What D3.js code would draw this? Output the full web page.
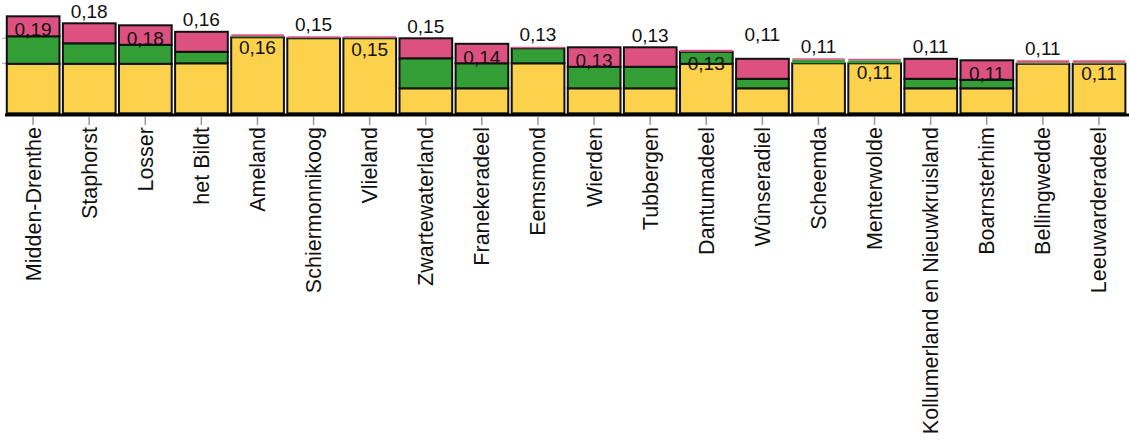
<!DOCTYPE html>
<html>
<head>
<meta charset="utf-8">
<script src="https://cdn.jsdelivr.net/npm/d3@7"></script>
<style>
  body { margin: 0; background: #fff; }
  svg text { font-family: "Liberation Sans", Arial, sans-serif; fill: #111; }
</style>
</head>
<body>
<div id="chart"></div>
<script>
const categories = ['Midden-Drenthe', 'Staphorst', 'Losser', 'het Bildt', 'Ameland', 'Schiermonnikoog',
  'Vlieland', 'Zwartewaterland', 'Franekeradeel', 'Eemsmond', 'Wierden', 'Tubbergen', 'Dantumadeel',
  'Wûnseradiel', 'Scheemda', 'Menterwolde', 'Kollumerland en Nieuwkruisland', 'Boarnsterhim',
  'Bellingwedde', 'Leeuwarderadeel'];

const yellowValues = [0.099, 0.099, 0.099, 0.1, 0.152, 0.15, 0.15, 0.05, 0.05, 0.1,
  0.05, 0.05, 0.099, 0.05, 0.1, 0.1, 0.05, 0.05, 0.099, 0.099];
const greenValues = [0.055, 0.041, 0.038, 0.023, 0.002, 0.001, 0.001, 0.06, 0.05, 0.03,
  0.043, 0.043, 0.024, 0.019, 0.007, 0.006, 0.019, 0.017, 0.002, 0.002];
const pinkValues = [0.04, 0.04, 0.039, 0.04, 0.004, 0.003, 0.003, 0.04, 0.039, 0.003,
  0.039, 0.039, 0.004, 0.04, 0.003, 0.003, 0.04, 0.039, 0.005, 0.005];

// where the total label sits: inside the bar, above it, or lifted higher
const labelSide = ['in', 'out', 'in', 'out', 'in', 'out', 'in', 'out', 'in', 'out',
  'in', 'out', 'in', 'up', 'out', 'in', 'out', 'in', 'out', 'in'];

const seriesKeys = ['yellow', 'green', 'pink'];
const colors = { yellow: '#fcd24c', green: '#329e35', pink: '#dd5180' };

const width = 1129, height = 448;
const baseY = 113.3;

const rows = categories.map((c, i) => ({
  name: c, yellow: yellowValues[i], green: greenValues[i], pink: pinkValues[i]
}));

const svg = d3.select('#chart').append('svg')
  .attr('width', width)
  .attr('height', height);

const x = d3.scaleBand()
  .domain(categories)
  .range([5, 1127])
  .padding(0);

const y = d3.scaleLinear()
  .domain([0, 0.2])
  .range([baseY, baseY - 100]);

const stack = d3.stack().keys(seriesKeys)(rows);

// small left ticks
svg.selectAll('.ytick')
  .data([0.1, 0.15])
  .enter().append('line')
  .attr('x1', 2).attr('x2', 6)
  .attr('y1', d => y(d)).attr('y2', d => y(d))
  .attr('stroke', '#aaa')
  .attr('stroke-width', 1);

const layers = svg.selectAll('.layer')
  .data(stack)
  .enter().append('g')
  .attr('class', 'layer')
  .attr('fill', d => colors[d.key]);

layers.selectAll('rect')
  .data(d => d)
  .enter().append('rect')
  .attr('x', d => x(d.data.name) + 1.8)
  .attr('width', x.bandwidth() - 3.4)
  .attr('y', d => y(d[1]))
  .attr('height', d => y(d[0]) - y(d[1]))
  .attr('stroke', d => (y(d[0]) - y(d[1]) < 4 ? 'none' : '#111'))
  .attr('stroke-width', 2);

// baseline
svg.append('line')
  .attr('x1', 5).attr('x2', width)
  .attr('y1', 115).attr('y2', 115)
  .attr('stroke', '#000')
  .attr('stroke-width', 3);

// x ticks and labels
const ticks = svg.selectAll('.xtick')
  .data(categories)
  .enter().append('g')
  .attr('transform', d => `translate(${x(d) + x.bandwidth() / 2},0)`);

ticks.append('line')
  .attr('y1', 117).attr('y2', 125)
  .attr('stroke', '#999')
  .attr('stroke-width', 1.5);

ticks.append('text')
  .attr('transform', 'translate(0,127) rotate(-90)')
  .attr('text-anchor', 'end')
  .attr('dy', '0.35em')
  .style('font-size', '21.5px')
  .text(d => d);

// total labels
const locale = d3.formatLocale({ decimal: ',', thousands: '.', grouping: [3], currency: ['€', ''] });
const fmt = locale.format('.2f');

svg.selectAll('.total')
  .data(rows)
  .enter().append('text')
  .attr('class', 'total')
  .attr('x', d => x(d.name) + x.bandwidth() / 2)
  .attr('y', (d, i) => {
    const top = y(d.yellow + d.green + d.pink);
    if (labelSide[i] === 'in') return top + 20;
    if (labelSide[i] === 'up') return top - 17.5;
    return top - 5.5;
  })
  .attr('text-anchor', 'middle')
  .style('font-size', '19px')
  .text(d => fmt(d.yellow + d.green + d.pink));
</script>
</body>
</html>
